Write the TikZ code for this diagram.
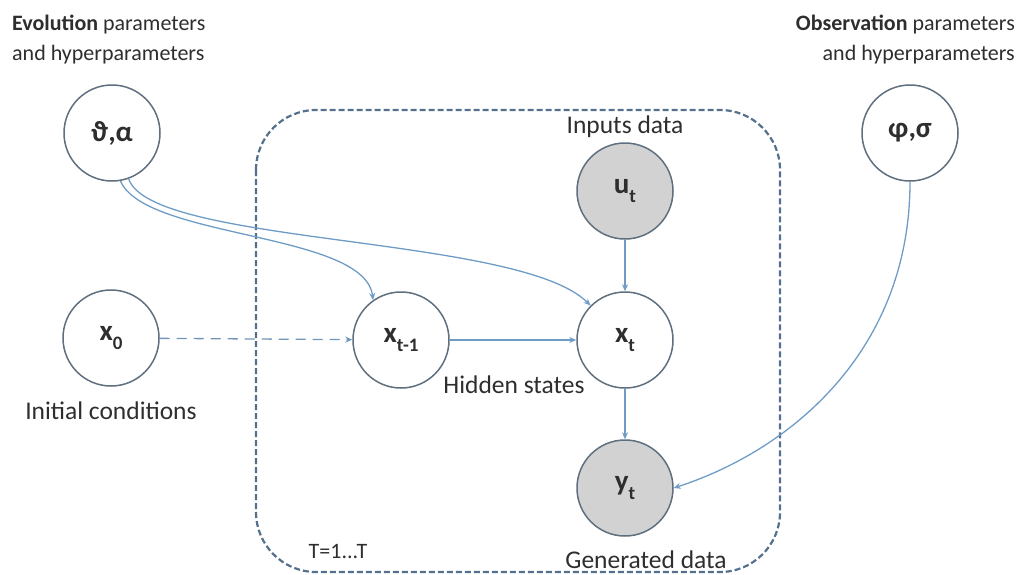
\documentclass[tikz,border=0pt]{standalone}
\usepackage{fontspec}
\setmainfont{Carlito}
\usetikzlibrary{arrows.meta}
\definecolor{edgegray}{HTML}{5F6F7F}
\definecolor{linkblue}{HTML}{6E9CC6}
\definecolor{plateblue}{HTML}{55708C}
\definecolor{obsgray}{HTML}{D2D2D2}
\definecolor{txtgray}{HTML}{2E2E2E}
\newcommand{\lowidx}[1]{\raisebox{-0.32em}{\fontsize{19}{19}\selectfont #1}}

\tikzset{
  var/.style={circle,draw=edgegray,line width=1.5pt,fill=white,minimum size=96pt,
              inner sep=0pt,font=\fontsize{29}{29}\selectfont\bfseries,text=txtgray},
  obs/.style={var,fill=obsgray},
  link/.style={draw=linkblue,line width=1.3pt,-{Stealth[length=7pt,width=6pt]}},
  caption/.style={font=\fontsize{22}{30}\selectfont,text=txtgray,inner sep=0pt},
  inner caption/.style={caption,font=\fontsize{25.5}{30}\selectfont},
  plate/.style={draw=plateblue,line width=2.2pt,dash pattern=on 6pt off 3pt,
                rounded corners=60pt}
}

\begin{document}
\begin{tikzpicture}[x=1pt,y=-1pt]
  \useasboundingbox (0,0) rectangle (1017,574);
  % Plate
  \draw[plate] (256,110) rectangle (780,572);
  \node[caption] (tlab) at (338,551) {T=1...T};
  % Parameters
  \node[var] (th) at (112,133) {ϑ,α};
  \node[var] (phi) at (910,133) {φ,σ};
  \node[caption,anchor=north west,align=left] (evlab) at (12,15)
    {\textbf{Evolution} parameters\\and hyperparameters};
  \node[caption,anchor=north east,align=right] (oblab) at (1015,15)
    {\textbf{Observation} parameters\\and hyperparameters};
  % States and data
  \node[var] (x0) at (111,338) {x\lowidx{0}};
  \node[var] (xprev) at (401,340) {x\lowidx{t-1}};
  \node[var] (xt) at (625,340) {x\lowidx{t}};
  \node[obs] (ut) at (625,191) {u\lowidx{t}};
  \node[obs] (yt) at (625,488) {y\lowidx{t}};
  \node[inner caption] (inlab) at (625,127) {Inputs data};
  \node[inner caption] (hidlab) at (514,385) {Hidden states};
  \node[inner caption] (initlab) at (111,411) {Initial conditions};
  \node[inner caption] (genlab) at (646,560) {Generated data};
  % Connectors
  \draw[link,draw=linkblue!80!gray,dash pattern=on 10pt off 7pt] (x0) -- (xprev);
  \draw[link] (xprev) -- (xt);
  \draw[link] (ut) -- (xt);
  \draw[link] (xt) -- (yt);
  \draw[link] (th.-80) .. controls +(25,58) and +(-8,-68) .. (xprev.125);
  \draw[link] (th.-70) .. controls +(22,67) and +(-71,-71) .. (xt.135);
  \draw[link] (phi.south) .. controls +(0,169) and +(117,-38) .. (yt.east);
\end{tikzpicture}
\end{document}
